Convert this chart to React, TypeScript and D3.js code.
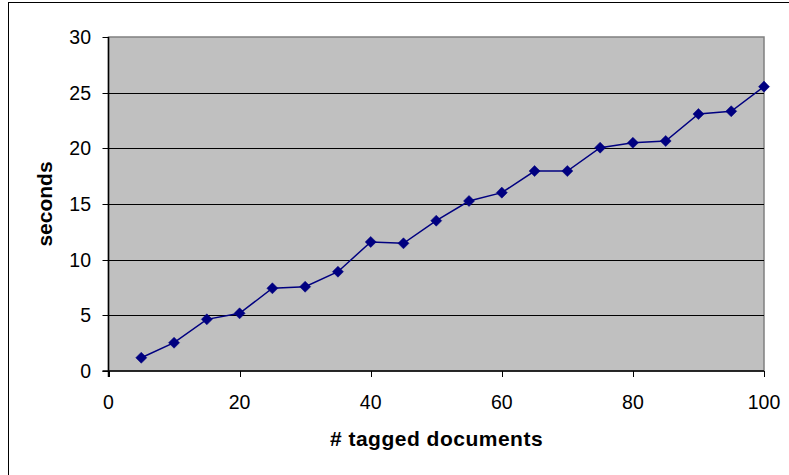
import React from "react";
import * as d3 from "d3";

// Number of tagged documents processed
const docCounts = [5, 10, 15, 20, 25, 30, 35, 40, 45, 50, 55, 60, 65, 70, 75, 80, 85, 90, 95, 100];
// Elapsed time in seconds for each run
const seconds = [1.19, 2.54, 4.64, 5.18, 7.43, 7.57, 8.92, 11.59, 11.47, 13.5, 15.27, 16.02, 17.96, 17.96, 20.06, 20.5, 20.66, 23.08, 23.33, 25.54];
const xTicks = [0, 20, 40, 60, 80, 100];
const yTicks = [0, 5, 10, 15, 20, 25, 30];

const W = 789;
const H = 475;
const plot = { left: 108.5, right: 764, top: 37, bottom: 371 };
const FONT = "'Liberation Sans', Arial, sans-serif";

export default function App() {
  const x = d3.scaleLinear().domain([0, 100]).range([plot.left, plot.right]);
  const y = d3.scaleLinear().domain([0, 30]).range([plot.bottom, plot.top]);
  const pts = docCounts.map((d, i) => [x(d), y(seconds[i])] as [number, number]);
  const line = d3.line()(pts) ?? "";
  const diamond = d3.symbol().type(d3.symbolDiamond2).size(78)() ?? "";

  return (
    <svg
      width={W}
      height={H}
      style={{ position: "fixed", left: 0, top: 0, background: "#fff" }}
      fontFamily={FONT}
    >
      {/* chart frame */}
      <rect x={8.5} y={2.5} width={W + 10} height={H + 10} fill="#fff" stroke="#000" strokeWidth={1} />

      {/* plot area */}
      <rect
        x={plot.left}
        y={plot.top}
        width={plot.right - plot.left}
        height={plot.bottom - plot.top}
        fill="#c0c0c0"
        stroke="#808080"
        strokeWidth={1.5}
      />

      {/* horizontal gridlines */}
      {yTicks.slice(1, -1).map((t) => (
        <line key={`g${t}`} x1={plot.left} x2={plot.right} y1={Math.round(y(t)) + 0.5} y2={Math.round(y(t)) + 0.5} stroke="#000" strokeWidth={1} />
      ))}

      {/* axes */}
      <line x1={plot.left} x2={plot.left} y1={plot.top} y2={plot.bottom + 6} stroke="#000" strokeWidth={1.5} />
      <line x1={plot.left - 6} x2={plot.right} y1={plot.bottom} y2={plot.bottom} stroke="#000" strokeWidth={1.5} />

      {/* y ticks and labels */}
      {yTicks.map((t) => (
        <g key={`y${t}`}>
          <line x1={plot.left - 6} x2={plot.left} y1={Math.round(y(t)) + 0.5} y2={Math.round(y(t)) + 0.5} stroke="#000" />
          <text x={91} y={y(t)} dy="0.36em" textAnchor="end" fontSize={19.5} fill="#000">
            {t}
          </text>
        </g>
      ))}

      {/* x ticks and labels */}
      {xTicks.map((t) => (
        <g key={`x${t}`}>
          <line x1={Math.round(x(t)) + 0.5} x2={Math.round(x(t)) + 0.5} y1={plot.bottom} y2={plot.bottom + 6} stroke="#000" />
          <text x={x(t)} y={409} textAnchor="middle" fontSize={19.5} fill="#000">
            {t}
          </text>
        </g>
      ))}

      {/* series */}
      <path d={line} fill="none" stroke="#000080" strokeWidth={1.5} />
      {pts.map(([px, py], i) => (
        <path key={i} d={diamond} transform={`translate(${px},${py})`} fill="#000080" stroke="#000080" strokeWidth={0.5} />
      ))}

      {/* axis titles */}
      <text x={436.5} y={446} textAnchor="middle" fontSize={21} fontWeight="bold" letterSpacing={0.5} fill="#000">
        # tagged documents
      </text>
      <text
        transform={`translate(52,${(plot.top + plot.bottom) / 2}) rotate(-90)`}
        textAnchor="middle"
        fontSize={21}
        fontWeight="bold"
        fill="#000"
      >
        seconds
      </text>
    </svg>
  );
}
